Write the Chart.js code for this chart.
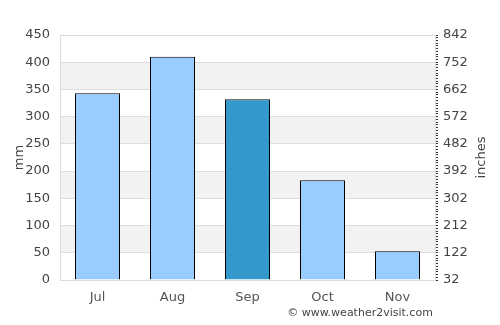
<!DOCTYPE html>
<html>
<head>
<meta charset="utf-8">
<script src="https://cdn.jsdelivr.net/npm/chart.js@4/dist/chart.umd.min.js"></script>
<style>
  html, body { margin: 0; padding: 0; background: #fff; }
  #wrap { width: 500px; height: 325px; position: relative; }
</style>
</head>
<body>
<div id="wrap"><canvas id="c" width="500" height="325"></canvas></div>
<script>
const categories = ['Jul', 'Aug', 'Sep', 'Oct', 'Nov'];
const rainfallMm = [343, 410, 332, 183, 53];
const barColors = ['#99ccff', '#99ccff', '#3399cc', '#99ccff', '#99ccff'];
const mmTicks = [0, 50, 100, 150, 200, 250, 300, 350, 400, 450];
const inchTickLabels = ['32', '122', '212', '302', '392', '482', '572', '662', '752', '842'];
const bands = [[50, 100], [150, 200], [250, 300], [350, 400]];
const FONT = 'DejaVu Sans';

const bgPlugin = {
  id: 'bands',
  beforeDraw(chart) {
    const { ctx, chartArea } = chart;
    const y = chart.scales.y;
    ctx.save();
    ctx.fillStyle = '#f2f2f2';
    bands.forEach(([a, b]) => {
      const top = y.getPixelForValue(b);
      const bot = y.getPixelForValue(a);
      ctx.fillRect(chartArea.left, top, chartArea.right - chartArea.left, bot - top);
    });
    ctx.restore();
  },
  afterDraw(chart) {
    const { ctx, chartArea } = chart;
    ctx.save();
    ctx.fillStyle = '#444';
    ctx.font = '13px "' + FONT + '"';
    ctx.textAlign = 'center';
    ctx.textBaseline = 'middle';
    ctx.translate(482, (chartArea.top + chartArea.bottom) / 2);
    ctx.rotate(-Math.PI / 2);
    ctx.fillText('inches', 0, 0);
    ctx.restore();
    ctx.save();
    ctx.fillStyle = '#444';
    ctx.font = '11px "' + FONT + '"';
    ctx.textAlign = 'center';
    ctx.textBaseline = 'middle';
    ctx.fillText('\u00a9 www.weather2visit.com', 360, 313);
    ctx.restore();
  }
};

new Chart(document.getElementById('c'), {
  type: 'bar',
  data: {
    labels: categories,
    datasets: [{
      data: rainfallMm,
      backgroundColor: barColors,
      borderColor: '#000',
      borderWidth: 1,
      barPercentage: 0.6,
      categoryPercentage: 1.0
    }]
  },
  options: {
    responsive: false,
    animation: false,
    events: [],
    layout: { padding: { top: 35, left: 0, right: 0, bottom: 0 } },
    plugins: { legend: { display: false }, tooltip: { enabled: false } },
    scales: {
      x: {
        grid: { display: false, drawTicks: false },
        border: { display: true, color: '#ddd' },
        ticks: { color: '#555', font: { family: FONT, size: 13 }, padding: 10 },
        afterFit(s) { s.height = 45; }
      },
      y: {
        position: 'left',
        min: 0, max: 450,
        afterBuildTicks(s) { s.ticks = mmTicks.map(v => ({ value: v })); },
        grid: { color: '#ddd', drawTicks: false },
        border: { display: true, color: '#ddd' },
        ticks: { color: '#444', font: { family: FONT, size: 13 }, padding: 10 },
        title: { display: true, text: 'mm', color: '#444', font: { family: FONT, size: 13 }, padding: { top: 12 } },
        afterFit(s) { s.width = 60; }
      },
      y2: {
        position: 'right',
        min: 0, max: 450,
        ticks: {
          stepSize: 5,
          autoSkip: false,
          color: '#444',
          font: { family: FONT, size: 13 },
          padding: 5,
          callback(v) { return v % 50 === 0 ? inchTickLabels[v / 50] : ''; }
        },
        grid: { drawOnChartArea: false, drawTicks: true, tickLength: 3, color: '#333' },
        border: { display: true, color: '#ddd' },
        afterFit(s) { s.width = 65; }
      }
    }
  },
  plugins: [bgPlugin]
});
</script>
</body>
</html>
